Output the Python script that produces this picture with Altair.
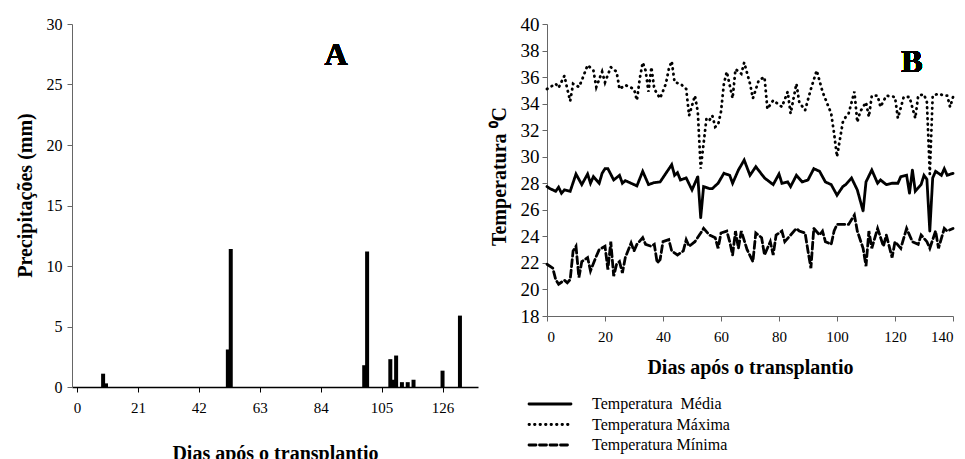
import altair as alt
import pandas as pd

# ---------------- Panel A: rainfall ----------------
rain_day = [9, 10, 52, 53, 99, 100, 108, 109, 110, 112, 114, 116, 126, 132]
rain_mm = [1.1, 0.3, 3.1, 11.4, 1.8, 11.2, 2.3, 0.6, 2.6, 0.4, 0.4, 0.6, 1.35, 5.9]
a_xticks = [0, 21, 42, 63, 84, 105, 126]
a_yticks = [0, 5, 10, 15, 20, 25, 30]

# ---------------- Panel B: temperatures ----------------
tmax_day = [0, 3, 4, 6, 7, 8, 9, 11, 12, 14, 16, 17, 19, 20, 22, 24, 25, 27, 30, 31,
            32, 33, 34, 35, 36, 37, 39, 41, 42, 43, 44, 46, 48, 49, 51, 52, 53, 55, 56, 57,
            58, 59, 60, 61, 62, 64, 65, 67, 68, 70, 71, 73, 75, 76, 78, 81, 83, 84, 86, 87,
            89, 91, 93, 95, 98, 99, 100, 102, 103, 104, 106, 107, 108, 110, 111, 112, 114, 115, 117, 120,
            121, 123, 125, 127, 128, 130, 131, 132, 133, 135, 137, 138, 139, 140]
tmax = [35.1, 35.5, 35.2, 36.1, 35.1, 34.2, 35.5, 35.25, 35.75, 36.9, 36.5, 35.25, 36.4, 35.6, 36.75, 36.4, 35.1, 35.4, 35.1, 34.25,
        35.9, 37.1, 36.5, 34.9, 36.75, 35.1, 34.4, 35.5, 36.6, 37.2, 35.6, 35.5, 35.1, 33.1, 34.6, 33.4, 29.1, 32.9, 32.75, 33.1,
        32.25, 32.4, 33.4, 35.5, 36.4, 34.4, 36.6, 36.25, 37.1, 35.5, 34.4, 35.75, 36.0, 33.6, 34.25, 33.75, 34.9, 33.25, 35.5, 34.1,
        33.5, 35.1, 36.5, 34.9, 33.25, 31.75, 30.0, 32.6, 33.0, 33.25, 34.9, 32.6, 33.4, 34.1, 33.0, 34.6, 34.6, 33.75, 34.6, 34.5,
        32.9, 34.5, 34.5, 32.9, 34.6, 34.7, 34.1, 28.7, 34.6, 34.75, 34.6, 34.6, 33.75, 34.5]

tmean_day = [0, 1, 3, 4, 5, 6, 8, 10, 12, 14, 15, 16, 18, 19, 20, 21, 23, 25, 26, 27,
             31, 33, 35, 37, 39, 41, 43, 44, 45, 46, 48, 50, 52, 53, 54, 56, 57, 59, 61, 63,
             64, 66, 68, 70, 72, 75, 78, 80, 81, 83, 84, 86, 88, 90, 92, 94, 96, 98, 100, 102,
             103, 105, 107, 109, 110, 112, 114, 115, 117, 119, 121, 122, 124, 125, 126, 127, 129, 130, 131, 132,
             133, 134, 136, 137, 138, 140]
tmean = [27.75, 27.6, 27.4, 27.7, 27.25, 27.5, 27.4, 28.7, 27.9, 28.7, 28.0, 28.5, 28.0, 28.75, 29.1, 29.1, 28.25, 28.6, 28.0, 28.2,
         27.8, 28.9, 27.9, 28.05, 28.1, 28.75, 29.4, 28.6, 28.8, 28.25, 28.4, 27.5, 28.5, 25.4, 27.75, 27.6, 27.6, 28.0, 28.75, 28.6,
         28.0, 29.0, 29.75, 28.6, 29.25, 28.4, 27.9, 28.7, 28.0, 28.1, 27.75, 28.6, 28.1, 28.25, 29.1, 28.9, 28.1, 27.9, 27.1, 27.75,
         27.9, 28.4, 27.5, 25.9, 28.1, 29.0, 28.0, 28.25, 27.9, 28.0, 28.0, 28.5, 28.6, 27.25, 29.0, 27.4, 27.9, 28.6, 28.3, 24.4,
         28.4, 28.9, 28.6, 29.1, 28.6, 28.75]

tmin_day = [0, 2, 3, 4, 6, 7, 8, 9, 10, 11, 12, 14, 15, 17, 18, 20, 21, 22, 23, 24,
            25, 26, 27, 29, 30, 31, 33, 34, 36, 37, 38, 39, 40, 42, 43, 45, 47, 48, 49, 51,
            53, 54, 56, 58, 59, 60, 62, 63, 64, 65, 66, 67, 69, 71, 72, 74, 75, 77, 78, 79,
            81, 82, 84, 86, 87, 89, 90, 91, 92, 94, 95, 96, 98, 99, 100, 103, 104, 106, 107, 109,
            110, 111, 112, 114, 116, 117, 119, 120, 122, 124, 126, 128, 129, 131, 132, 134, 135, 137, 138, 140]
tmin = [21.9, 21.6, 20.75, 20.4, 20.7, 20.5, 20.75, 22.9, 23.25, 20.9, 22.1, 22.4, 21.4, 22.5, 23.0, 23.25, 21.5, 23.6, 21.0, 21.9,
        22.1, 21.25, 22.4, 23.5, 22.9, 23.4, 23.9, 23.4, 23.25, 23.4, 22.0, 22.25, 23.6, 23.75, 22.9, 22.6, 22.9, 23.75, 23.25, 23.6,
        24.25, 24.6, 24.1, 23.9, 23.1, 24.25, 24.4, 23.6, 22.6, 24.4, 23.1, 24.4, 23.0, 22.1, 24.25, 23.9, 22.6, 23.6, 22.6, 24.1,
        24.4, 23.6, 24.1, 24.6, 24.4, 24.25, 22.9, 21.6, 24.6, 24.1, 24.4, 23.6, 23.4, 24.4, 24.9, 24.9, 24.9, 25.6, 24.4, 23.1,
        21.75, 24.4, 23.1, 24.6, 23.25, 24.1, 22.4, 23.6, 23.1, 24.6, 23.6, 23.4, 24.1, 23.6, 23.1, 24.4, 23.1, 24.6, 24.4, 24.6]

series_names = ["Temperatura\u00a0 Média", "Temperatura Máxima", "Temperatura Mínima"]
b_xticks = [0, 20, 40, 60, 80, 100, 120, 140]
b_yticks = [18, 20, 22, 24, 26, 28, 30, 32, 34, 36, 38, 40]

FONT = "Liberation Serif"

rain_df = pd.DataFrame({"dia": rain_day, "mm": rain_mm})
temp_df = pd.concat([
    pd.DataFrame({"dia": tmean_day, "t": tmean, "serie": series_names[0]}),
    pd.DataFrame({"dia": tmax_day, "t": tmax, "serie": series_names[1]}),
    pd.DataFrame({"dia": tmin_day, "t": tmin, "serie": series_names[2]}),
], ignore_index=True)
legend_df = pd.DataFrame({"serie": series_names})

dash_scale = alt.Scale(domain=series_names, range=[[1, 0], [0.5, 5], [7, 3.5]])

# ---------------- Chart A ----------------
bars = alt.Chart(rain_df).mark_bar(color="black", size=4).encode(
    x=alt.X("dia:Q", scale=alt.Scale(domain=[0, 136.5], nice=False, zero=True),
            axis=alt.Axis(values=a_xticks, title="Dias após o transplantio", grid=False,
                          labelFont=FONT, labelFontSize=15, labelColor="black",
                          titleFont=FONT, titleFontSize=20, titleFontWeight="bold", titleColor="black",
                          titlePadding=28, labelPadding=8, tickSize=5, tickColor="black",
                          domainColor="black", domainWidth=1.5)),
    y=alt.Y("mm:Q", scale=alt.Scale(domain=[0, 30], nice=False),
            axis=alt.Axis(values=a_yticks, title="Precipitações (mm)", grid=False,
                          labelFont=FONT, labelFontSize=16, labelColor="black",
                          titleFont=FONT, titleFontSize=20, titleFontWeight="bold", titleColor="black",
                          titlePadding=11, labelPadding=5, tickSize=5, tickColor="#666",
                          titleY=171,
                          domainColor="#666", domainWidth=1)),
)
label_a = alt.Chart(rain_df).mark_text(text="A", font=FONT, fontSize=32, fontWeight="bold",
                                       color="black").encode(x=alt.value(264), y=alt.value(31))
chart_a = alt.layer(bars, label_a).properties(width=406, height=363)

# ---------------- Chart B ----------------
lines = alt.Chart(temp_df).mark_line(color="black", strokeWidth=2.8, strokeCap="round").encode(
    x=alt.X("dia:Q", scale=alt.Scale(domain=[0, 140], nice=False),
            axis=alt.Axis(values=b_xticks, title="Dias após o transplantio", grid=False,
                          labelFont=FONT, labelFontSize=15, labelColor="black",
                          titleFont=FONT, titleFontSize=20, titleFontWeight="bold", titleColor="black",
                          titlePadding=13, labelPadding=8, tickSize=5, tickColor="#666",
                          domainColor="#666", domainWidth=1)),
    y=alt.Y("t:Q", scale=alt.Scale(domain=[18, 40], nice=False, zero=False),
            axis=alt.Axis(values=b_yticks, title="Temperatura  \u2070C", grid=False,
                          labelFont=FONT, labelFontSize=19, labelColor="black",
                          titleFont=FONT, titleFontSize=20, titleFontWeight="bold", titleColor="black",
                          titlePadding=11, labelPadding=3, tickSize=5, tickColor="#666",
                          titleY=152,
                          domainColor="#666", domainWidth=1)),
    strokeDash=alt.StrokeDash("serie:N", scale=dash_scale, legend=None),
    detail="serie:N",
)
label_b = alt.Chart(temp_df).mark_text(text="B", font=FONT, fontSize=32, fontWeight="bold",
                                       color="black").encode(x=alt.value(365), y=alt.value(38))

leg_y = alt.Y("serie:N", scale=alt.Scale(domain=series_names, type="point", range=[380, 421], padding=0),
              axis=None)
leg_rule = alt.Chart(legend_df).mark_rule(color="black", strokeWidth=2.8, strokeCap="round").encode(
    x=alt.value(-18), x2=alt.value(24), y=leg_y,
    strokeDash=alt.StrokeDash("serie:N", scale=dash_scale, legend=None),
)
leg_text = alt.Chart(legend_df).mark_text(align="left", baseline="middle", font=FONT, fontSize=16,
                                          color="black").encode(
    x=alt.value(45), y=leg_y, text="serie:N",
)
chart_b = alt.layer(lines, label_b, leg_rule, leg_text).resolve_scale(y="independent").properties(
    width=406, height=292)

chart = alt.hconcat(chart_a, chart_b, spacing=11).properties(
    padding={"left": 15, "top": 15, "right": 0, "bottom": 0},
    background="white",
).configure_view(stroke=None)

chart.save("out.html", embed_options={"renderer": "svg", "actions": False})
